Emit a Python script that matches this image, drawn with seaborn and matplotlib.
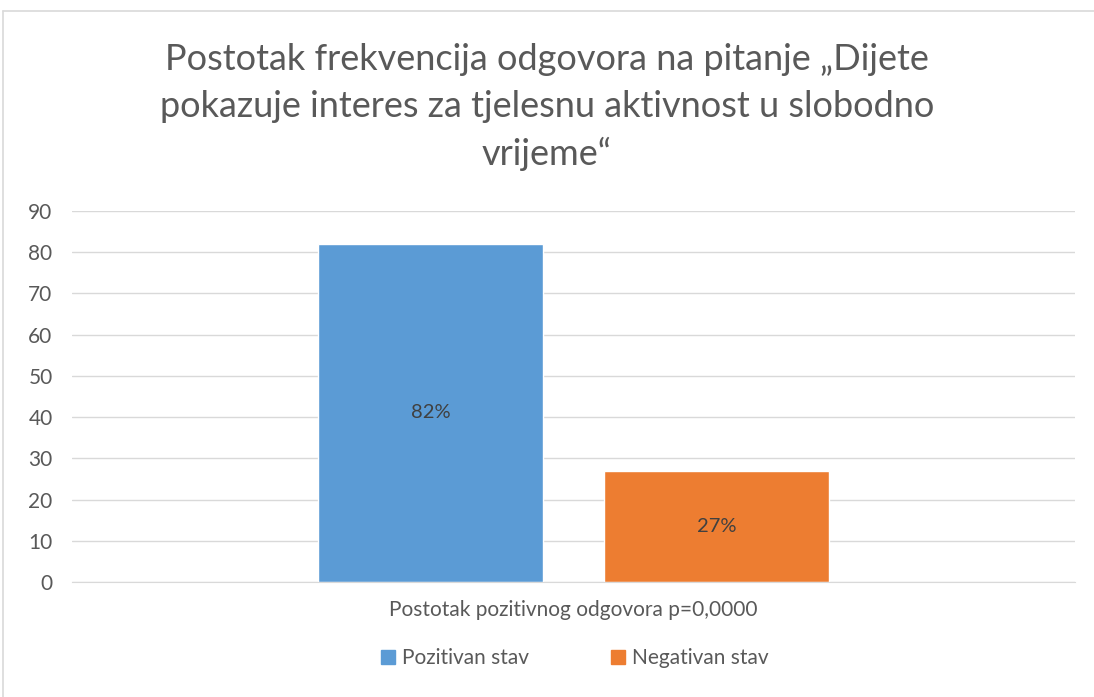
import pandas as pd
import matplotlib
matplotlib.use('Agg')
import matplotlib.pyplot as plt
import seaborn as sns
from matplotlib.lines import Line2D

# data
category = 'Postotak pozitivnog odgovora p=0,0000'
series = ['Pozitivan stav', 'Negativan stav']
values = [82, 27]
colors = ['#5B9BD5', '#ED7D31']
title = 'Postotak frekvencija odgovora na pitanje \u201eDijete\npokazuje interes za tjelesnu aktivnost u slobodno\nvrijeme\u201c'

df = pd.DataFrame({'cat': [category] * len(series), 'serija': series, 'vrijednost': values})

sns.set_style('white')
plt.rcParams['font.family'] = ['Lato', 'DejaVu Sans']
gray = '#595959'

fig = plt.figure(figsize=(10.94, 6.97), dpi=100)
ax = fig.add_axes([72 / 1094, 1 - 582 / 697, 1003 / 1094, 371 / 697])

sns.barplot(data=df, x='cat', y='vrijednost', hue='serija', palette=colors,
            width=0.57, gap=0.21, saturation=1, legend=False, ax=ax)

for c in ax.containers:
    ax.bar_label(c, fmt='{:.0f}%', label_type='center', fontsize=14.5, color='#404040')

ax.set_ylim(0, 90)
ax.set_xlim(-0.5, 0.5)
ax.set_yticks(range(0, 91, 10))
ax.yaxis.grid(True, color='#D9D9D9', linewidth=1)
ax.set_axisbelow(True)
for s in ['top', 'right', 'left']:
    ax.spines[s].set_visible(False)
ax.spines['bottom'].set_color('#D9D9D9')
ax.tick_params(axis='both', length=0, labelsize=15, colors=gray, pad=14)
ax.tick_params(axis='x', pad=13)
ax.set_xlabel('')
ax.set_ylabel('')
for t in ax.get_xticklabels():
    t.set_fontsize(15)

fig.text(0.5, 1 - 107 / 697, title, ha='center', va='center', fontsize=26,
         color=gray, linespacing=1.5)

handles = [Line2D([], [], marker='s', linestyle='none', markersize=10,
                  markerfacecolor=c, markeredgecolor=c) for c in colors]
fig.legend(handles, series, loc='center', bbox_to_anchor=(573 / 1094, 1 - 658 / 697),
           ncol=2, frameon=False, fontsize=15, labelcolor=gray, handletextpad=0.15,
           columnspacing=3.8, handlelength=1.0)

# chart area border
fig.add_artist(Line2D([3 / 1094, 3 / 1094], [0, 1 - 11 / 697], color='#D9D9D9', lw=1.2,
                      transform=fig.transFigure))
fig.add_artist(Line2D([3 / 1094, 1], [1 - 11 / 697, 1 - 11 / 697], color='#D9D9D9', lw=1.2,
                      transform=fig.transFigure))

fig.savefig('out.png', dpi=100, facecolor='white')
